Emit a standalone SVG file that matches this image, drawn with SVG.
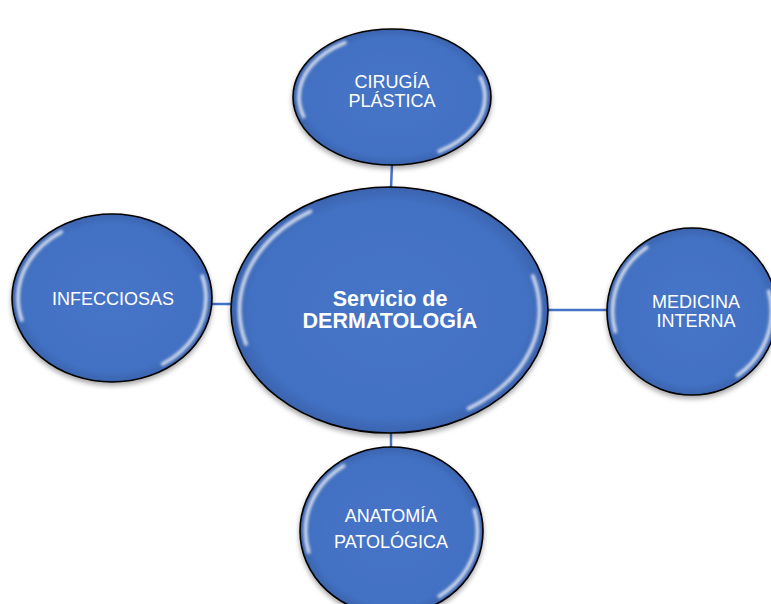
<svg xmlns="http://www.w3.org/2000/svg" width="771" height="604" viewBox="0 0 771 604">
<defs>
<radialGradient id="fillG" cx="50%" cy="50%" r="50%">
<stop offset="0%" stop-color="#4674C6"/>
<stop offset="88%" stop-color="#4371C3"/>
<stop offset="100%" stop-color="#3A63AE"/>
</radialGradient>
<filter id="blur" x="-20%" y="-20%" width="140%" height="140%">
<feGaussianBlur stdDeviation="1.8"/>
</filter>
<filter id="shadow" x="-10%" y="-10%" width="120%" height="125%">
<feDropShadow dx="0" dy="3" stdDeviation="2.5" flood-color="#000" flood-opacity="0.35"/>
</filter>
</defs>
<style>
.node{fill:url(#fillG);stroke:#000;stroke-width:1.6;filter:url(#shadow)}
.hl{fill:none;stroke:#fff;stroke-width:3.5;stroke-linecap:round;opacity:0.8;filter:url(#blur);stroke-dasharray:55 110 70 110 15}
.lbl{font-family:"Liberation Sans",Arial,sans-serif;font-size:18px;fill:#fff;text-anchor:middle}
.bold{font-weight:bold;font-size:21.5px}
.conn{stroke:#4472C4;stroke-width:2.5;fill:none}
</style>
<rect width="771" height="604" fill="#fff"/>
<g id="connectors">
<line class="conn" x1="392" y1="164" x2="391" y2="188"/>
<line class="conn" x1="211" y1="304" x2="232" y2="304"/>
<line class="conn" x1="547" y1="310" x2="608" y2="310"/>
<line class="conn" x1="391" y1="432" x2="391" y2="448"/>
</g>
<g id="node-cirugia">
<ellipse class="node" cx="392" cy="97" rx="99" ry="68"/>
<ellipse class="hl" cx="392" cy="97" rx="93" ry="63" pathLength="360"/>
<text class="lbl" x="392" y="88">CIRUGÍA</text>
<text class="lbl" x="392" y="107">PLÁSTICA</text>
</g>
<g id="node-infecciosas">
<ellipse class="node" cx="112" cy="298" rx="100" ry="84"/>
<ellipse class="hl" cx="112" cy="298" rx="94" ry="78.5" pathLength="360"/>
<text class="lbl" x="113" y="305">INFECCIOSAS</text>
</g>
<g id="node-medicina">
<ellipse class="node" cx="692" cy="311.5" rx="85" ry="83.5"/>
<ellipse class="hl" cx="692" cy="311.5" rx="79.5" ry="78" pathLength="360"/>
<text class="lbl" x="696" y="308">MEDICINA</text>
<text class="lbl" x="696" y="327">INTERNA</text>
</g>
<g id="node-anatomia">
<ellipse class="node" cx="391.5" cy="531" rx="91.5" ry="84"/>
<ellipse class="hl" cx="391.5" cy="531" rx="86" ry="78.5" pathLength="360"/>
<text class="lbl" x="391" y="522">ANATOMÍA</text>
<text class="lbl" x="391" y="548">PATOLÓGICA</text>
</g>
<g id="node-dermatologia">
<ellipse class="node" cx="389.5" cy="310" rx="158.5" ry="123"/>
<ellipse class="hl" cx="389.5" cy="310" rx="150" ry="116" pathLength="360"/>
<text class="lbl bold" x="390" y="306">Servicio de</text>
<text class="lbl bold" x="390" y="328">DERMATOLOGÍA</text>
</g>
</svg>
